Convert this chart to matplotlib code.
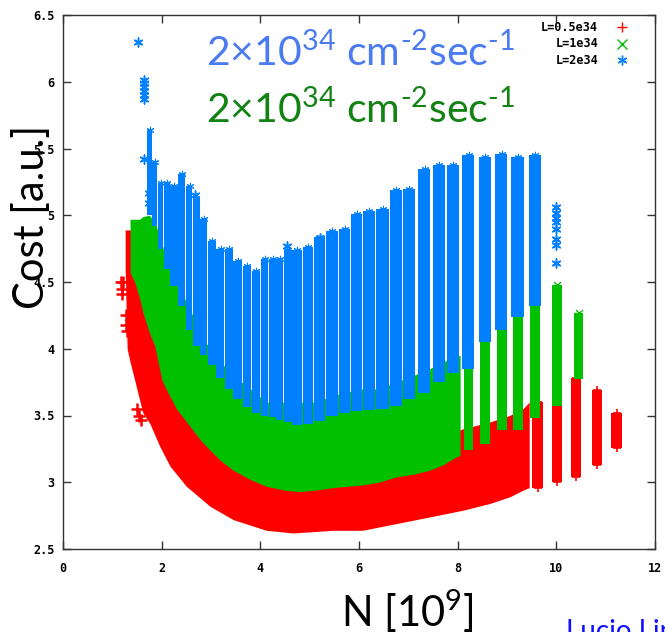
import numpy as np
import matplotlib
matplotlib.use('Agg')
import matplotlib.pyplot as plt

# ---- data ----
# L=0.5e34 (red): dense band + separate columns at high N + a few stray points
red_band_N = [1.26, 1.30, 1.36, 1.45, 1.55, 1.62, 1.76, 1.96, 2.17, 2.50, 2.98, 3.45, 4.12,
              4.66, 5.47, 6.07, 6.75, 7.43, 8.10, 8.64, 9.05, 9.32, 9.45]
red_band_lo = [4.60, 4.00, 3.90, 3.77, 3.62, 3.52, 3.44, 3.27, 3.12, 2.97, 2.82, 2.72, 2.64,
               2.62, 2.64, 2.64, 2.69, 2.74, 2.79, 2.84, 2.89, 2.94, 2.96]
red_band_hi = [4.89, 4.89, 4.89, 4.85, 4.70, 4.55, 4.35, 4.10, 3.90, 3.65, 3.45, 3.30, 3.20,
               3.15, 3.15, 3.20, 3.25, 3.30, 3.40, 3.45, 3.50, 3.55, 3.60]
red_col_N = [9.62, 10.02, 10.40, 10.83, 11.22]
red_col_lo = [2.96, 3.00, 3.04, 3.13, 3.26]
red_col_hi = [3.60, 3.65, 3.78, 3.69, 3.52]
red_pts_N = [1.18, 1.20, 1.22, 1.20, 1.28, 1.28, 1.30, 1.50, 1.55, 1.58]
red_pts_C = [4.50, 4.45, 4.50, 4.41, 4.25, 4.18, 4.13, 3.55, 3.50, 3.47]

# L=1e34 (green)
green_band_N = [1.36, 1.45, 1.55, 1.62, 1.75, 1.86, 2.00, 2.10, 2.30, 2.57, 2.80, 2.98, 3.20,
                3.45, 3.80, 4.12, 4.50, 4.80, 5.10, 5.47, 6.07, 6.40, 6.75, 7.10, 7.43, 7.70,
                7.97, 8.05]
green_band_lo = [4.57, 4.50, 4.38, 4.27, 4.12, 4.02, 3.77, 3.69, 3.55, 3.42, 3.31, 3.24, 3.16,
                 3.09, 3.02, 2.97, 2.94, 2.93, 2.94, 2.96, 2.98, 3.00, 3.04, 3.06, 3.09, 3.13,
                 3.19, 3.20]
green_band_hi = [4.97, 4.97, 4.97, 4.99, 5.00, 4.95, 4.80, 4.65, 4.50, 4.30, 4.10, 4.00, 3.90,
                 3.80, 3.70, 3.60, 3.60, 3.60, 3.60, 3.65, 3.70, 3.70, 3.75, 3.80, 3.85, 3.90,
                 3.95, 3.95]
green_col_N = [8.22, 8.56, 8.89, 9.22, 9.57, 10.02, 10.45]
green_col_lo = [3.24, 3.29, 3.39, 3.39, 3.48, 3.57, 3.77]
green_col_hi = [3.95, 4.09, 4.17, 4.27, 4.44, 4.48, 4.27]

# L=2e34 (blue)
blue_N = [1.76, 1.86, 1.98, 2.10, 2.25, 2.42, 2.57, 2.70, 2.86, 3.02, 3.20, 3.36, 3.55, 3.73,
          3.92, 4.10, 4.25, 4.40, 4.55, 4.75, 4.97, 5.20, 5.46, 5.71, 5.95, 6.21, 6.48, 6.75,
          7.02, 7.33, 7.62, 7.91, 8.22, 8.56, 8.89, 9.22, 9.57]
blue_hi = [5.64, 5.40, 5.24, 5.24, 5.22, 5.31, 5.22, 5.13, 4.97, 4.81, 4.75, 4.75, 4.66, 4.62,
           4.58, 4.67, 4.67, 4.67, 4.74, 4.74, 4.76, 4.84, 4.88, 4.90, 5.01, 5.03, 5.05, 5.19,
           5.20, 5.35, 5.38, 5.38, 5.45, 5.44, 5.46, 5.44, 5.45]
blue_lo = [5.00, 4.92, 4.75, 4.60, 4.47, 4.32, 4.14, 4.02, 3.95, 3.88, 3.78, 3.70, 3.62, 3.56,
           3.52, 3.50, 3.49, 3.47, 3.45, 3.43, 3.44, 3.46, 3.50, 3.52, 3.53, 3.54, 3.55, 3.57,
           3.62, 3.67, 3.75, 3.82, 3.85, 4.05, 4.14, 4.24, 4.32]
blue_pts_N = [1.53, 1.64, 1.64, 1.64, 1.64, 1.64, 1.64, 1.64, 1.75, 1.75, 2.68, 4.55, 5.20,
              10.0, 10.0, 10.0, 10.0, 10.0, 10.0, 10.0, 10.0]
blue_pts_C = [6.30, 5.87, 5.90, 5.93, 5.96, 5.99, 6.01, 5.42, 5.17, 5.09, 5.15, 4.77, 4.83,
              5.06, 5.02, 4.98, 4.95, 4.90, 4.82, 4.78, 4.64]

legend_labels = ['L=0.5e34', 'L=1e34', 'L=2e34']
xticks = [0, 2, 4, 6, 8, 10, 12]
yticks = [2.5, 3, 3.5, 4, 4.5, 5, 5.5, 6, 6.5]
ytick_labels = ['2.5', '3', '3.5', '4', '4.5', '5', '5.5', '6', '6.5']

RED, GREEN, BLUE = '#ff0000', '#00c000', '#0080ff'
ASTER = (6, 2, 0)
TICKFONT = dict(family='DejaVu Sans Mono', weight='bold', size=8.5)

fig = plt.figure(figsize=(6.65, 6.32), dpi=100)
ax = fig.add_axes([63 / 665, 1 - 549 / 632, 592 / 665, 534 / 632])

# red
ax.fill_between(red_band_N, red_band_lo, red_band_hi, color=RED, lw=0, zorder=1)
rn, rl, rh = np.array(red_col_N), np.array(red_col_lo), np.array(red_col_hi)
ax.bar(rn, rh - rl, bottom=rl, width=0.21, color=RED, lw=0, zorder=1)
ax.scatter(np.r_[rn, rn], np.r_[rl, rh], marker='+', s=40, color=RED, lw=1.2, zorder=1)
ax.scatter(red_pts_N, red_pts_C, marker='+', s=85, color=RED, lw=1.8, zorder=1)

# green
ax.fill_between(green_band_N, green_band_lo, green_band_hi, color=GREEN, lw=0, zorder=2)
gn, gl, gh = np.array(green_col_N), np.array(green_col_lo), np.array(green_col_hi)
ax.bar(gn, gh - gl, bottom=gl, width=0.2, color=GREEN, lw=0, zorder=2)
ax.scatter(gn, gh, marker='x', s=25, color=GREEN, lw=1.0, zorder=2)

# blue: each column spans to the midpoints with its neighbours, capped in width
bn, bl, bh = np.array(blue_N), np.array(blue_lo), np.array(blue_hi)
sp = np.diff(bn)
mids = (bn[1:] + bn[:-1]) / 2
left = np.maximum(np.r_[bn[0] - sp[0] / 2, mids], bn - 0.13)
right = np.minimum(np.r_[mids, bn[-1] + sp[-1] / 2], bn + 0.13)
ax.bar(left, bh - bl, bottom=bl, width=right - left - 0.012, align='edge', color=BLUE, lw=0,
       zorder=3)
ax.scatter(bn, bh, marker=ASTER, s=22, color=BLUE, lw=0.8, zorder=3)
ax.scatter(blue_pts_N, blue_pts_C, marker=ASTER, s=40, color=BLUE, lw=1.1, zorder=3)

ax.set_xlim(0, 12)
ax.set_ylim(2.5, 6.5)
ax.set_xticks(xticks)
ax.set_xticklabels([str(t) for t in xticks], fontdict=TICKFONT)
ax.set_yticks(yticks)
ax.set_yticklabels(ytick_labels, fontdict=TICKFONT)
ax.tick_params(direction='in', length=6, width=1, top=True, right=True, color='#333333')
ax.tick_params(axis='x', pad=9)
ax.tick_params(axis='y', pad=6)
for s in ax.spines.values():
    s.set_color('#333333')
    s.set_linewidth(1)

# gnuplot style key, top right
markers = ['+', 'x', ASTER]
colors = [RED, GREEN, BLUE]
for i, (lab, m, c) in enumerate(zip(legend_labels, markers, colors)):
    yy = 0.977 - i * 0.031
    ax.text(0.904, yy, lab, transform=ax.transAxes, ha='right', va='center',
            fontfamily='DejaVu Sans Mono', fontweight='bold', fontsize=8.5)
    ax.plot([0.945], [yy], marker=m, color=c, ms=7, mew=1, transform=ax.transAxes,
            clip_on=False, zorder=5)

# big slide annotations
sup = r'2×10$^{\mathregular{34}}$ cm$^{\mathregular{‐2}}$sec$^{\mathregular{‐1}}$'
fig.text(206 / 665, 1 - 66.5 / 632, sup, color='#4a7bf0', fontsize=29.5, family='Lato',
         ha='left', va='baseline')
fig.text(206 / 665, 1 - 123 / 632, sup, color='#128312', fontsize=29.5, family='Lato',
         ha='left', va='baseline')
fig.text(32 / 665, 1 - 217 / 632, 'Cost [a.u.]', rotation=90, fontsize=30, family='Lato',
         ha='center', va='center')
fig.text(407 / 665, 1 - 627 / 632, r'N [10$^{\mathregular{9}}$]', fontsize=30, family='Lato',
         ha='center', va='baseline')
fig.text(566 / 665, 1 - 640 / 632, 'Lucio Linssen', fontsize=20, family='Lato',
         color='#1010ff', ha='left', va='baseline')

fig.savefig('out.png', dpi=100)
